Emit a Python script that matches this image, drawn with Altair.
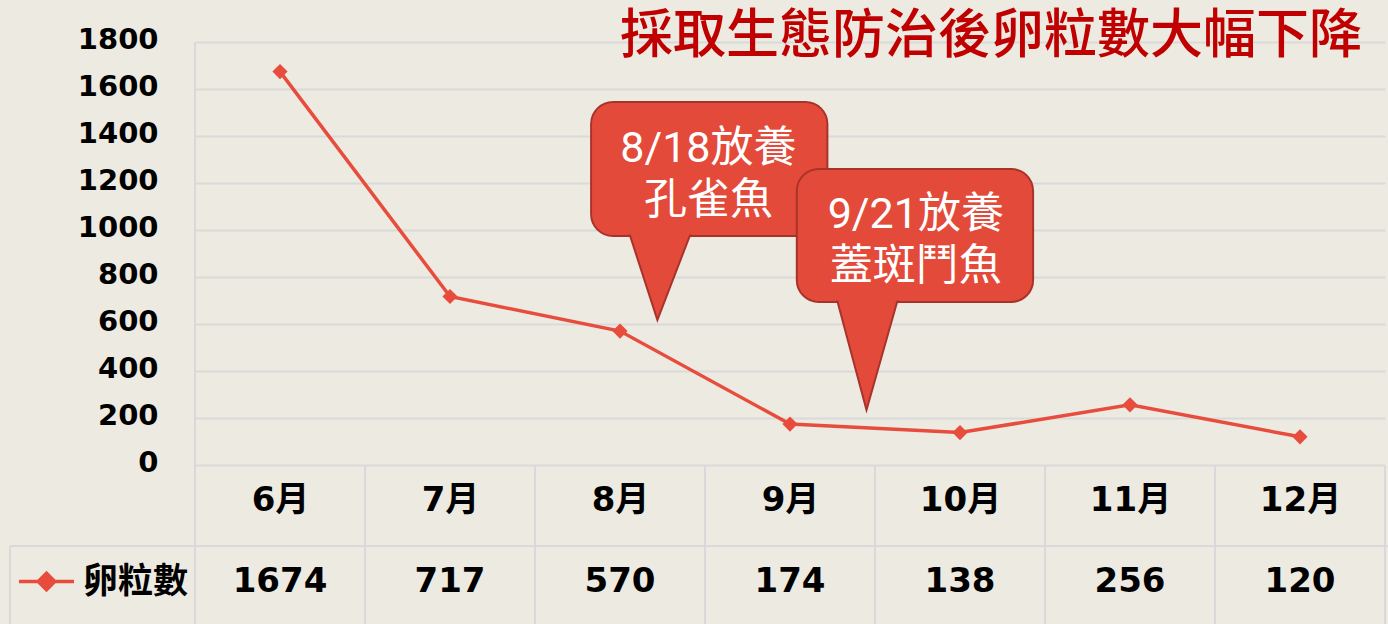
import altair as alt
import pandas as pd

# ---------------- data ----------------
months = ["6月", "7月", "8月", "9月", "10月", "11月", "12月"]
eggs = [1674, 717, 570, 174, 138, 256, 120]
series_name = "卵粒數"
title_text = "採取生態防治後卵粒數大幅下降"
y_ticks = [0, 200, 400, 600, 800, 1000, 1200, 1400, 1600, 1800]

# callout annotations (geometry in data units: x = month index, y = egg count)
callout_text = ["8/18放養\n孔雀魚", "9/21放養\n蓋斑鬥魚"]
box_x1 = [1.83, 3.04]
box_x2 = [3.22, 4.43]
box_y1 = [974, 694]
box_y2 = [1545, 1260]
tail_left = [2.06, 3.28]
tail_right = [2.41, 3.63]
tail_tip_x = [2.22, 3.45]
tail_tip_y = [617, 234]
text_x = [2.52, 3.74]
text_y = [1345, 1065]

# ---------------- style ----------------
W, H = 1190, 423
PAD = {"left": 195, "top": 42, "right": 3, "bottom": 159}
BG = "#EDEAE1"
RED = "#E74C3C"
BOX_FILL = "#E34A3A"
BOX_STROKE = "#A8332B"
GRID = "#D9D9D9"
LATIN = "DejaVu Sans"
CJK = "Noto Sans CJK TC"
MIXED = f"{LATIN}, {CJK}"

xs = alt.Scale(domain=[-0.5, len(months) - 0.5], nice=False, zero=False)
ys = alt.Scale(domain=[0, 1800], nice=False, zero=False)

df = pd.DataFrame({"idx": list(range(len(months))), "month": months,
                   "eggs": eggs, "series": series_name})

label_expr = "[" + ",".join(f"'{m}'" for m in months) + "][datum.value]"

x_axis = alt.Axis(values=list(range(len(months))), labelExpr=label_expr, title=None,
                  domain=False, ticks=False, grid=False, labelFont=MIXED,
                  labelFontSize=34, labelFontWeight="bold", labelColor="black",
                  labelPadding=35, labelBaseline="middle")
y_axis = alt.Axis(values=y_ticks, format="d", title=None, domain=False, ticks=False,
                  grid=True, gridColor=GRID, gridWidth=2, labelFont=LATIN,
                  labelFontSize=29, labelFontWeight="bold", labelColor="black",
                  labelPadding=37, labelOffset=-3)

legend_symbol = "M-2,0H2M0,-0.6L0.6,0L0,0.6L-0.6,0Z"
color = alt.Color("series:N", scale=alt.Scale(range=[RED]),
                  legend=alt.Legend(orient="none", legendX=-166, legendY=522, title=None,
                                    symbolType=legend_symbol, symbolSize=756,
                                    symbolStrokeWidth=3.5, symbolFillColor=RED,
                                    symbolStrokeColor=RED, labelFont=CJK,
                                    labelFontSize=35, labelFontWeight="bold",
                                    labelColor="black", labelOffset=19, padding=0))

line = alt.Chart(df).mark_line(strokeWidth=3.5).encode(
    x=alt.X("idx:Q", scale=xs, axis=x_axis),
    y=alt.Y("eggs:Q", scale=ys, axis=y_axis),
    color=color,
)
pts = alt.Chart(df).mark_point(shape="diamond", filled=True, size=230, opacity=1).encode(
    x=alt.X("idx:Q", scale=xs, axis=None),
    y=alt.Y("eggs:Q", scale=ys, axis=None),
    color=color,
)

# ---------------- table grid below the plot ----------------
bounds = pd.DataFrame({"b": [i - 0.5 for i in range(len(months) + 1)]})
vrules = alt.Chart(bounds).mark_rule(color=GRID, strokeWidth=2).encode(
    x=alt.X("b:Q", scale=xs, axis=None), y=alt.value(H), y2=alt.value(H + 200))
left_rule = alt.Chart(pd.DataFrame({"b": [-0.5]})).mark_rule(color=GRID, strokeWidth=2).encode(
    x=alt.X("b:Q", scale=xs, axis=None), y=alt.value(0), y2=alt.value(H + 200))
row_rule = alt.Chart(pd.DataFrame({"a": [0]})).mark_rule(color=GRID, strokeWidth=2).encode(
    x=alt.value(-185), x2=alt.value(W + 10), y=alt.value(504))
legend_cell = alt.Chart(pd.DataFrame({"a": [0]})).mark_rule(color=GRID, strokeWidth=2).encode(
    x=alt.value(-185), y=alt.value(504), y2=alt.value(H + 200))

values_row = alt.Chart(df).mark_text(font=LATIN, fontSize=34, fontWeight="bold",
                                     color="black", baseline="middle").encode(
    x=alt.X("idx:Q", scale=xs, axis=None), y=alt.value(540), text="eggs:Q")

# ---------------- callouts ----------------
dx_px = 1.0 / 170.0
dy_px = 1800.0 / H
layers = []
for i in range(len(callout_text)):
    box = pd.DataFrame({"x1": [box_x1[i]], "x2": [box_x2[i]], "y1": [box_y1[i]], "y2": [box_y2[i]]})
    layers.append(alt.Chart(box).mark_rect(fill=BOX_FILL, stroke=BOX_STROKE, strokeWidth=2,
                                           cornerRadius=22).encode(
        x=alt.X("x1:Q", scale=xs, axis=None), x2="x2:Q",
        y=alt.Y("y1:Q", scale=ys, axis=None), y2="y2:Q"))
    top = box_y1[i] + 8 * dy_px
    sl = (tail_tip_x[i] - tail_left[i]) / (box_y1[i] - tail_tip_y[i])
    sr = (tail_right[i] - tail_tip_x[i]) / (box_y1[i] - tail_tip_y[i])
    xl = tail_left[i] - sl * (top - box_y1[i])
    xr = tail_right[i] + sr * (top - box_y1[i])
    tail = pd.DataFrame({"x": [xl, tail_tip_x[i], xr],
                         "lo": [top, tail_tip_y[i], top],
                         "hi": [top, top, top]})
    layers.append(alt.Chart(tail).mark_area(fill=BOX_FILL, stroke=BOX_STROKE, strokeWidth=2,
                                            strokeJoin="miter").encode(
        x=alt.X("x:Q", scale=xs, axis=None),
        y=alt.Y("lo:Q", scale=ys, axis=None), y2="hi:Q"))
    cover = pd.DataFrame({"x1": [box_x1[i] + 1.5 * dx_px], "x2": [box_x2[i] - 1.5 * dx_px],
                          "y1": [box_y1[i] + 1.5 * dy_px], "y2": [box_y2[i] - 1.5 * dy_px]})
    layers.append(alt.Chart(cover).mark_rect(fill=BOX_FILL, cornerRadius=20).encode(
        x=alt.X("x1:Q", scale=xs, axis=None), x2="x2:Q",
        y=alt.Y("y1:Q", scale=ys, axis=None), y2="y2:Q"))
    txt = pd.DataFrame({"x": [text_x[i]], "y": [text_y[i]], "t": [callout_text[i]]})
    layers.append(alt.Chart(txt).mark_text(font=f"Roboto, {CJK}", fontSize=43, color="white",
                                           lineBreak="\n", lineHeight=52,
                                           baseline="middle", align="center").encode(
        x=alt.X("x:Q", scale=xs, axis=None),
        y=alt.Y("y:Q", scale=ys, axis=None), text="t:N"))

chart = alt.layer(line, vrules, left_rule, row_rule, legend_cell, pts, values_row, *layers).resolve_axis(
    x="independent", y="independent"
).properties(
    width=W, height=H,
    autosize=alt.AutoSizeParams(type="none"),
    padding=PAD,
    background=BG,
    title=alt.TitleParams(title_text, anchor="end", frame="group", font=CJK, fontSize=53,
                          fontWeight=500, color="#C00000", dx=-23, offset=-65,
                          baseline="middle"),
).configure_view(stroke=None)

chart.save("out.html", embed_options={"renderer": "svg", "actions": False})
